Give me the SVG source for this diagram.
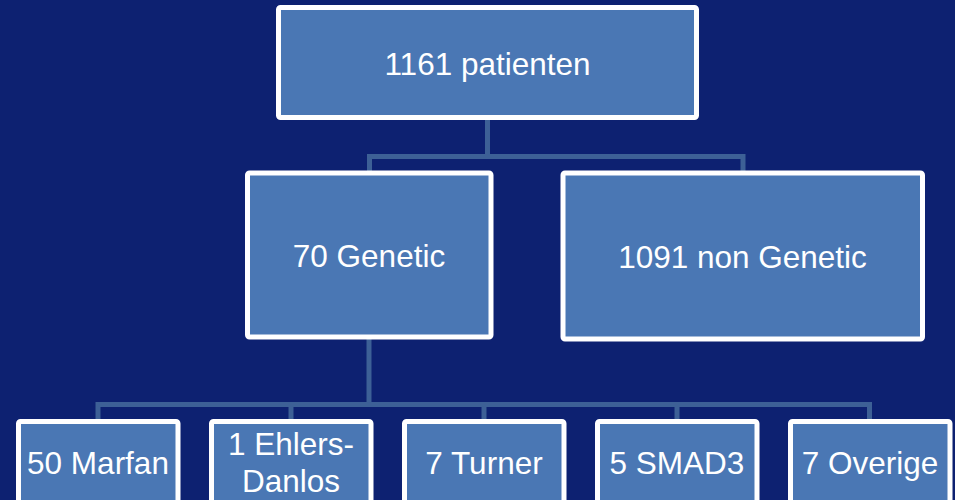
<svg xmlns="http://www.w3.org/2000/svg" width="955" height="500" viewBox="0 0 955 500">
<style>
.box{fill:#4a77b4;stroke:#ffffff;stroke-width:5;}
.lbl{fill:#ffffff;font-family:"Liberation Sans",Arial,sans-serif;font-size:31.5px;text-anchor:middle;}
.con{fill:none;stroke:#3d6096;stroke-width:5;}
</style>
<rect x="0" y="0" width="955" height="500" fill="#0d2171"/>
<g id="connectors">
<path class="con" d="M487.5,120 V156.5 M369.5,156.5 H743 M369.5,154 V173 M743,154 V173"/>
<path class="con" d="M369,339 V404.5 M98,404.5 H869.5 M98,402 V421 M291,402 V421 M484,402 V421 M677,402 V421 M869.5,402 V421"/>
</g>
<g id="n_root"><rect class="box" x="278.5" y="7.5" width="418" height="110" rx="2"/><text class="lbl" x="487.5" y="75">1161 patienten</text></g>
<g id="n_genetic"><rect class="box" x="247.5" y="173" width="243.5" height="164" rx="2"/><text class="lbl" x="369" y="267">70 Genetic</text></g>
<g id="n_nongenetic"><rect class="box" x="563" y="173" width="359.5" height="166" rx="2"/><text class="lbl" x="742.5" y="268">1091 non Genetic</text></g>
<g id="n_marfan"><rect class="box" x="18.5" y="421.5" width="159.5" height="95" rx="2"/><text class="lbl" x="98" y="474">50 Marfan</text></g>
<g id="n_ehlers"><rect class="box" x="211.5" y="421.5" width="159.5" height="95" rx="2"/><text class="lbl" x="291" y="455">1 Ehlers-</text><text class="lbl" x="291" y="491.5">Danlos</text></g>
<g id="n_turner"><rect class="box" x="404.5" y="421.5" width="159.5" height="95" rx="2"/><text class="lbl" x="484" y="474">7 Turner</text></g>
<g id="n_smad3"><rect class="box" x="597.5" y="421.5" width="159.5" height="95" rx="2"/><text class="lbl" x="677" y="474">5 SMAD3</text></g>
<g id="n_overige"><rect class="box" x="790.5" y="421.5" width="159.5" height="95" rx="2"/><text class="lbl" x="870" y="474">7 Overige</text></g>
</svg>
